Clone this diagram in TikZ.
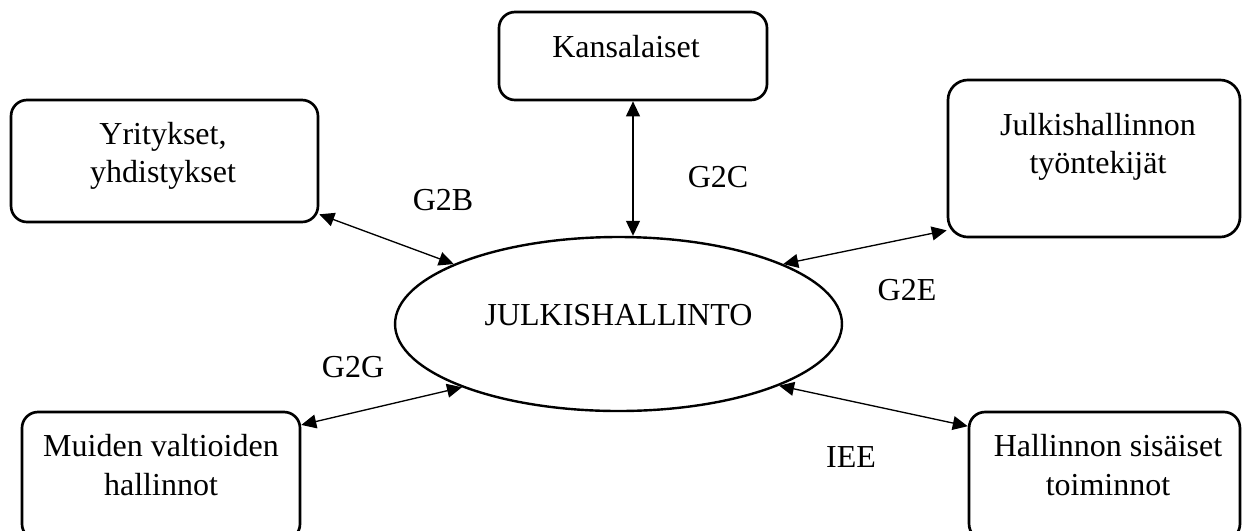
\documentclass[tikz,border=0pt]{standalone}
\usepackage{fontspec}
\setmainfont{Liberation Serif}
\usetikzlibrary{arrows.meta, shapes.geometric}

\tikzset{
  box/.style = {draw, line width = 1pt, rounded corners = 6pt, inner sep = 0pt},
  txt/.style = {align = center, inner sep = 0pt, font = \fontsize{12}{14.3}\selectfont},
  link/.style = {line width = 0.5pt, {Triangle[length = 5.6pt, width = 5.2pt]}-{Triangle[length = 5.6pt, width = 5.2pt]}}
}

\begin{document}
\begin{tikzpicture}[x = 0.375pt, y = -0.375pt]
\useasboundingbox (0,0) rectangle (1245,530);

%boxes
\node[box, minimum width = 100.5pt, minimum height = 33pt] (kans) at (633,56) {};
\node[box, minimum width = 115.1pt, minimum height = 45.75pt] (yrit) at (164.5,161) {};
\node[box, rounded corners = 7.5pt, minimum width = 109.5pt, minimum height = 58.9pt] (tyon) at (1094,158.5) {};
\node[box, minimum width = 104.25pt, minimum height = 48pt] (muid) at (161,476) {};
\node[box, minimum width = 101.6pt, minimum height = 48pt] (sisa) at (1104.5,476) {};
\node[draw, ellipse, line width = 0.9pt, minimum width = 167.6pt, minimum height = 65.25pt, inner sep = 0pt] (hall) at (618.5,324) {};

\node[txt] (kanst) at (626,47) {Kansalaiset};
\node[txt] (yritt) at (163,156) {Yritykset,\\ yhdistykset};
\node[txt] (tyont) at (1098,147) {Julkishallinnon\\ työntekijät};
\node[txt] (muidt) at (161,465) {Muiden valtioiden\\ hallinnot};
\node[txt] (sisat) at (1108,465) {Hallinnon sisäiset\\ toiminnot};
\node[txt] (hallt) at (618.5,315) {JULKISHALLINTO};

%links
\draw[link] (kans.south) -- (kans.south |- hall.north);
\draw[link] (yrit.-19) -- (hall.160);
\draw[link] (hall.20) -- (tyon.206);
\draw[link] (muid.20) -- (hall.202);
\draw[link] (hall.-21) -- (sisa.160);

\node[txt] (g2b) at (443,200) {G2B};
\node[txt] (g2c) at (718,177) {G2C};
\node[txt] (g2e) at (907,290) {G2E};
\node[txt] (g2g) at (353,367) {G2G};
\node[txt] (iee) at (851,457) {IEE};
\end{tikzpicture}
\end{document}
